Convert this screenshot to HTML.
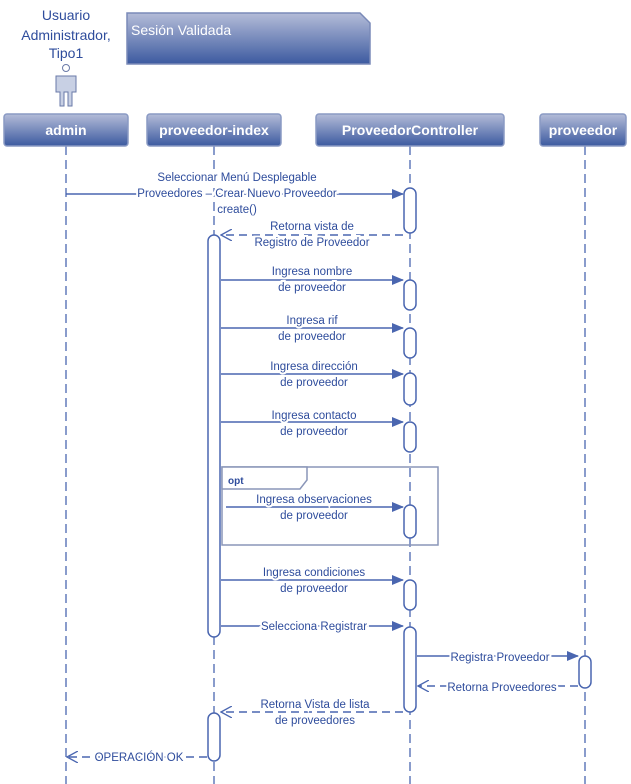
<!DOCTYPE html>
<html><head><meta charset="utf-8"><style>body{margin:0;background:#fff}svg{display:block}text{font-family:"Liberation Sans",sans-serif}</style></head><body>
<svg width="631" height="784" viewBox="0 0 631 784">
<defs>
<linearGradient id="g" x1="0" y1="0" x2="0" y2="1"><stop offset="0" stop-color="#b4bcd8"/><stop offset="1" stop-color="#3c5aa0"/></linearGradient>
<marker id="a" markerWidth="12" markerHeight="10" refX="11" refY="5" orient="auto" markerUnits="userSpaceOnUse"><path d="M0,0 L12,5 L0,10 Z" fill="#4a66b0"/></marker>
<marker id="o" markerWidth="12" markerHeight="12" refX="11" refY="6" orient="auto" markerUnits="userSpaceOnUse"><path d="M0,0 L11,6 L0,12" fill="none" stroke="#4a66b0" stroke-width="1.3"/></marker>
</defs>
<g fill="#2e4c9c" font-size="14" text-anchor="middle">
<text x="66" y="20">Usuario</text><text x="66" y="40">Administrador,</text><text x="66" y="58">Tipo1</text></g>
<path d="M127,13 H360 L370,23 V64 H127 Z" fill="url(#g)" stroke="#7a8ab8" stroke-width="1.5"/>
<text x="131" y="35" fill="#fff" font-size="14">Sesión Validada</text>
<g stroke="#6a7aa8" fill="#c8d0e4"><circle cx="66" cy="68" r="3.5" fill="#fff"/><path d="M56,76 H76 V92 H72 V106 H68 V92 H64 V106 H60 V92 H56 Z"/></g>
<g stroke="#4a66b0" stroke-width="1.3" stroke-dasharray="9,5" fill="none">
<line x1="66" y1="146" x2="66" y2="784"/><line x1="214" y1="146" x2="214" y2="784"/><line x1="410" y1="146" x2="410" y2="784"/><line x1="585" y1="146" x2="585" y2="784"/></g>
<g stroke="#8a9ac4" stroke-width="1.5" fill="url(#g)">
<rect x="4" y="114" width="124" height="32" rx="3"/><rect x="147" y="114" width="134" height="32" rx="3"/><rect x="316" y="114" width="188" height="32" rx="3"/><rect x="540" y="114" width="86" height="32" rx="3"/></g>
<g fill="#fff" font-size="14" font-weight="bold" text-anchor="middle">
<text x="66" y="135">admin</text><text x="214" y="135">proveedor-index</text><text x="410" y="135">ProveedorController</text><text x="583" y="135">proveedor</text></g>
<path d="M222,467 H438 V545 H222 Z" fill="none" stroke="#8a96b8" stroke-width="1.5"/>
<path d="M222,467 H307 V480 L300,489 H222 Z" fill="#fff" stroke="#8a96b8" stroke-width="1.5"/>
<text x="228" y="484" font-size="10" font-weight="bold" fill="#2e4c9c">opt</text>
<g stroke="#4a66b0" stroke-width="1.5" fill="#fff">
<rect x="404" y="188" width="12" height="45" rx="6"/><rect x="208" y="235" width="12" height="402" rx="6"/>
<rect x="404" y="280" width="12" height="30" rx="6"/><rect x="404" y="328" width="12" height="30" rx="6"/><rect x="404" y="373" width="12" height="32" rx="6"/><rect x="404" y="422" width="12" height="30" rx="6"/><rect x="404" y="505" width="12" height="33" rx="6"/><rect x="404" y="580" width="12" height="30" rx="6"/><rect x="404" y="627" width="12" height="85" rx="6"/><rect x="579" y="656" width="12" height="32" rx="6"/><rect x="208" y="713" width="12" height="48" rx="6"/></g>
<g stroke="#4a66b0" stroke-width="1.5" fill="none">
<line x1="66" y1="194" x2="403" y2="194" marker-end="url(#a)"/>
<line x1="403" y1="235" x2="221" y2="235" stroke-dasharray="8,5" marker-end="url(#o)"/>
<line x1="221" y1="280" x2="403" y2="280" marker-end="url(#a)"/>
<line x1="221" y1="328" x2="403" y2="328" marker-end="url(#a)"/>
<line x1="221" y1="374" x2="403" y2="374" marker-end="url(#a)"/>
<line x1="221" y1="422" x2="403" y2="422" marker-end="url(#a)"/>
<line x1="226" y1="507" x2="403" y2="507" marker-end="url(#a)"/>
<line x1="221" y1="580" x2="403" y2="580" marker-end="url(#a)"/>
<line x1="221" y1="626" x2="403" y2="626" marker-end="url(#a)"/>
<line x1="417" y1="656" x2="578" y2="656" marker-end="url(#a)"/>
<line x1="578" y1="686" x2="418" y2="686" stroke-dasharray="8,5" marker-end="url(#o)"/>
<line x1="403" y1="712" x2="221" y2="712" stroke-dasharray="8,5" marker-end="url(#o)"/>
<line x1="207" y1="757" x2="67" y2="757" stroke-dasharray="8,5" marker-end="url(#o)"/></g>
<g font-size="11.5" fill="#2e4c9c" text-anchor="middle" stroke="#fff" stroke-width="4" paint-order="stroke">
<text x="237" y="181">Seleccionar Menú Desplegable</text><text x="237" y="197">Proveedores – Crear Nuevo Proveedor</text><text x="237" y="213">create()</text>
<text x="312" y="230">Retorna vista de</text><text x="312" y="246">Registro de Proveedor</text>
<text x="312" y="275">Ingresa nombre</text><text x="312" y="291">de proveedor</text>
<text x="312" y="324">Ingresa rif</text><text x="312" y="340">de proveedor</text>
<text x="314" y="370">Ingresa dirección</text><text x="314" y="386">de proveedor</text>
<text x="314" y="419">Ingresa contacto</text><text x="314" y="435">de proveedor</text>
<text x="314" y="503">Ingresa observaciones</text><text x="314" y="519">de proveedor</text>
<text x="314" y="576">Ingresa condiciones</text><text x="314" y="592">de proveedor</text>
<text x="314" y="630">Selecciona Registrar</text>
<text x="500" y="661">Registra Proveedor</text>
<text x="502" y="691">Retorna Proveedores</text>
<text x="315" y="708">Retorna Vista de lista</text><text x="315" y="724">de proveedores</text>
<text x="139" y="761">OPERACIÓN OK</text></g>
</svg>
</body></html>
